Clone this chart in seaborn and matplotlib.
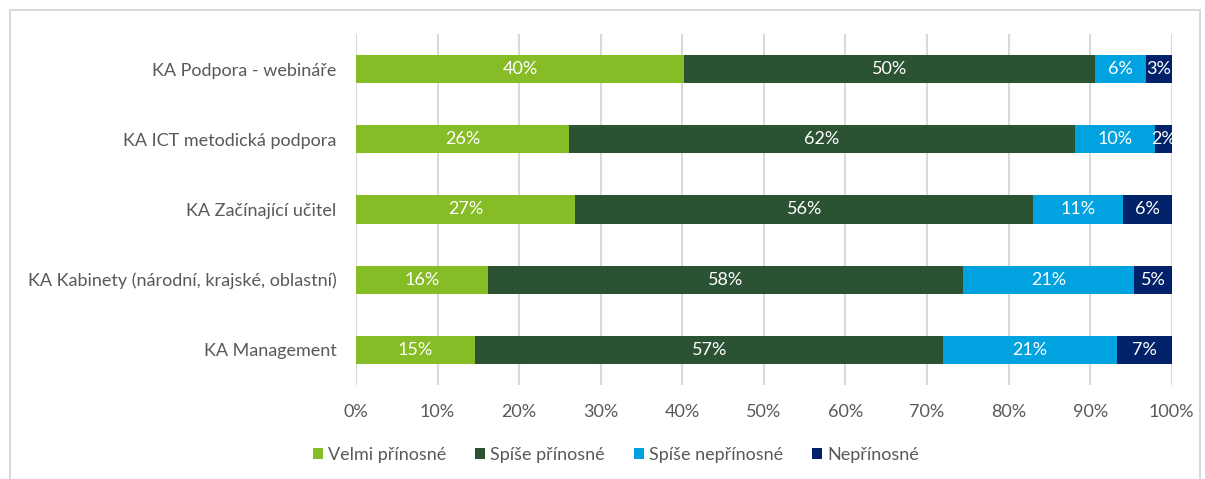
import numpy as np
import pandas as pd
import seaborn as sns
import matplotlib.pyplot as plt
from matplotlib.patches import Patch
from matplotlib.lines import Line2D

# data (share of answers, %)
categories = ["KA Podpora - webináře", "KA ICT metodická podpora", "KA Začínající učitel",
              "KA Kabinety (národní, krajské, oblastní)", "KA Management"]
series_names = ["Velmi přínosné", "Spíše přínosné", "Spíše nepřínosné", "Nepřínosné"]
velmi = [40.2, 26.1, 26.9, 16.2, 14.6]
spise = [50.4, 62.0, 56.1, 58.2, 57.4]
spise_ne = [6.3, 9.9, 11.0, 21.0, 21.3]
ne = [3.1, 2.0, 6.0, 4.6, 6.7]
tick_values = [0, 10, 20, 30, 40, 50, 60, 70, 80, 90, 100]

colors = ["#86BC25", "#2C5234", "#00A3E0", "#012169"]
text_gray = "#595959"
fs = 13

sns.set_theme(style="white")
plt.rcParams["font.family"] = ["Lato", "DejaVu Sans"]

df = pd.DataFrame({"cat": categories, series_names[0]: velmi, series_names[1]: spise,
                   series_names[2]: spise_ne, series_names[3]: ne})
cum = df[series_names].cumsum(axis=1)

fig = plt.figure(figsize=(12.05, 4.79), dpi=100)
ax = fig.add_axes([356 / 1205, 1 - 385 / 479, 815.7 / 1205, 351 / 479])

# draw from the longest cumulative bar to the shortest so they stack
for name, col in reversed(list(zip(series_names, colors))):
    sns.barplot(x=cum[name], y=df["cat"], orient="h", color=col, width=0.4,
                saturation=1, linewidth=0, edgecolor="none", ax=ax, zorder=3)

# segment labels
for i in range(len(categories)):
    left = 0
    for name in series_names:
        v = df[name][i]
        ax.text(left + v / 2, i, f"{v:.0f}%", ha="center", va="center",
                color="white", fontsize=fs, zorder=5)
        left += v

ax.set_xlim(0, 100)
ax.set_ylim(4.5, -0.5)
ax.set_xticks(tick_values)
ax.set_xticklabels([f"{t}%" for t in tick_values])
ax.set_xlabel("")
ax.set_ylabel("")
ax.grid(axis="x", color="#D9D9D9", lw=1.5, zorder=0)
ax.grid(axis="y", visible=False)
for s in ax.spines.values():
    s.set_visible(False)
ax.tick_params(axis="x", length=0, pad=14, labelsize=fs, labelcolor=text_gray)
ax.tick_params(axis="y", length=0, pad=14, labelsize=fs, labelcolor=text_gray)

handles = [Patch(facecolor=c, edgecolor="none", label=n) for n, c in zip(series_names, colors)]
fig.legend(handles=handles, loc="center", bbox_to_anchor=(616 / 1205, 1 - 455 / 479), ncol=4,
           frameon=False, handlelength=0.55, handleheight=0.55, handletextpad=0.3,
           columnspacing=1.6, fontsize=fs, labelcolor=text_gray)

# chart border (top, left, right visible in the reference)
bc = "#D9D9D9"
fig.add_artist(Line2D([10 / 1205, 1200 / 1205], [1 - 10 / 479, 1 - 10 / 479], color=bc, lw=1.5))
fig.add_artist(Line2D([10 / 1205, 10 / 1205], [0, 1 - 10 / 479], color=bc, lw=1.5))
fig.add_artist(Line2D([1200 / 1205, 1200 / 1205], [0, 1 - 10 / 479], color=bc, lw=1.5))

fig.savefig("out.png", dpi=100)
